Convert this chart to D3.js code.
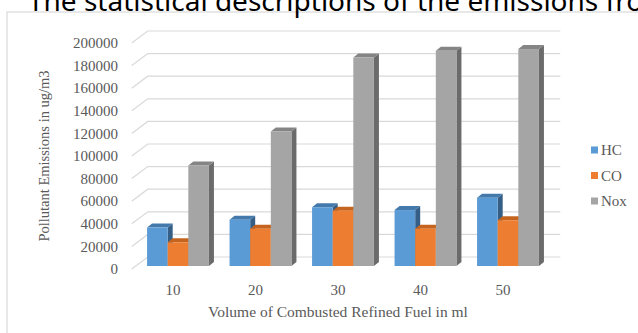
<!DOCTYPE html>
<html lang="en">
<head>
<meta charset="UTF-8">
<title>Pollutant Emissions</title>
<script src="https://d3js.org/d3.v7.min.js"></script>
<style>
  body { margin: 0; background: #fff; }
  svg { display: block; }
</style>
</head>
<body>
<script>
var categories = ["10", "20", "30", "40", "50"];
var seriesNames = ["HC", "CO", "Nox"];
var hc  = [34000, 41000, 52000, 49500, 60500];
var co  = [21000, 33000, 49000, 33000, 40500];
var nox = [89000, 119000, 184500, 190500, 192000];
var yTicks = [0, 20000, 40000, 60000, 80000, 100000, 120000, 140000, 160000, 180000, 200000];

var seriesValues = [hc, co, nox];
var front = ["#5b9bd5", "#ed7d31", "#a5a5a5"];
var top_ = ["#4379ab", "#c4641f", "#858585"];
var side = ["#355f86", "#a3531b", "#6b6b6b"];

var width = 638, height = 333;
var depthX = 16, depthY = -12;      // wall depth
var barShiftX = 5, barShiftY = -3;  // bar plane inside depth
var barDX = 5, barDY = -4;          // bar own depth

var svg = d3.select("body").append("svg")
    .attr("width", width)
    .attr("height", height);

// frame + title
svg.append("rect")
    .attr("x", 7).attr("y", 12)
    .attr("width", 700).attr("height", 400)
    .attr("fill", "#fff")
    .attr("stroke", "#d9d9d9").attr("stroke-width", 1.2);

svg.append("text")
    .attr("x", 28).attr("y", 11)
    .attr("font-family", "Noto Sans, sans-serif")
    .attr("font-size", 28)
    .attr("fill", "#000")
    .text("The statistical descriptions of the emissions from");

var x = d3.scaleBand()
    .domain(categories)
    .range([131.75, 544.25]);

var y = d3.scaleLinear()
    .domain([0, 200000])
    .range([269, 43]);

var inner = d3.scaleBand()
    .domain(seriesNames)
    .range([0, x.bandwidth()])
    .paddingOuter(0.5)
    .paddingInner(0);

// gridlines (side wall diagonal + back wall line)
var grid = svg.append("g").attr("stroke", "#d9d9d9").attr("stroke-width", 1.2).attr("fill", "none");
grid.selectAll("path").data(yTicks).enter().append("path")
    .attr("d", function(d) {
        var x0 = x.range()[0], y0 = y(d);
        return "M" + x0 + "," + y0 + "L" + (x0 + depthX) + "," + (y0 + depthY) +
               "L" + (x.range()[1] + depthX) + "," + (y0 + depthY);
    });

// y tick labels
svg.append("g").selectAll("text").data(yTicks).enter().append("text")
    .attr("x", 118).attr("y", function(d) { return y(d); })
    .attr("dy", "0.35em")
    .attr("text-anchor", "end")
    .attr("font-family", "Liberation Serif, serif")
    .attr("font-size", 15)
    .attr("fill", "#595959")
    .text(function(d) { return d; });

// x tick labels
svg.append("g").selectAll("text").data(categories).enter().append("text")
    .attr("x", function(d) { return x(d) + x.bandwidth() / 2; })
    .attr("y", 295)
    .attr("text-anchor", "middle")
    .attr("font-family", "Liberation Serif, serif")
    .attr("font-size", 15)
    .attr("fill", "#595959")
    .text(function(d) { return d; });

// bars
var bars = [];
categories.forEach(function(c, ci) {
    seriesNames.forEach(function(s, si) {
        bars.push({ cat: c, s: s, si: si, v: seriesValues[si][ci] });
    });
});

var barG = svg.append("g");
var b = barG.selectAll("g").data(bars).enter().append("g");

function bx(d) { return x(d.cat) + inner(d.s) + barShiftX; }
function by(v) { return y(v) + barShiftY; }

b.append("path")  // side face
    .attr("fill", function(d) { return side[d.si]; })
    .attr("d", function(d) {
        var x1 = bx(d) + inner.bandwidth(), yt = by(d.v), yb = by(0);
        return "M" + x1 + "," + yt + "L" + (x1 + barDX) + "," + (yt + barDY) +
               "L" + (x1 + barDX) + "," + (yb + barDY) + "L" + x1 + "," + yb + "Z";
    });
b.append("path")  // top face
    .attr("fill", function(d) { return top_[d.si]; })
    .attr("d", function(d) {
        var x0 = bx(d), x1 = x0 + inner.bandwidth(), yt = by(d.v);
        return "M" + x0 + "," + yt + "L" + (x0 + barDX) + "," + (yt + barDY) +
               "L" + (x1 + barDX) + "," + (yt + barDY) + "L" + x1 + "," + yt + "Z";
    });
b.append("rect")  // front face
    .attr("x", bx)
    .attr("y", function(d) { return by(d.v); })
    .attr("width", inner.bandwidth())
    .attr("height", function(d) { return by(0) - by(d.v); })
    .attr("fill", function(d) { return front[d.si]; });

// axis titles
svg.append("text")
    .attr("transform", "translate(49,156) rotate(-90)")
    .attr("text-anchor", "middle")
    .attr("font-family", "Liberation Serif, serif")
    .attr("font-size", 14.5)
    .attr("fill", "#595959")
    .text("Pollutant Emissions in ug/m3");

svg.append("text")
    .attr("x", 338).attr("y", 317)
    .attr("text-anchor", "middle")
    .attr("font-family", "Liberation Serif, serif")
    .attr("font-size", 15.5)
    .attr("fill", "#595959")
    .text("Volume of Combusted Refined Fuel in ml");

// legend
var leg = svg.append("g").selectAll("g").data(seriesNames).enter().append("g")
    .attr("transform", function(d, i) { return "translate(591," + (150 + i * 25.5) + ")"; });
leg.append("rect")
    .attr("x", 0).attr("y", -3.5).attr("width", 7).attr("height", 7)
    .attr("fill", function(d, i) { return front[i]; });
leg.append("text")
    .attr("x", 10).attr("dy", "0.35em")
    .attr("font-family", "Liberation Serif, serif")
    .attr("font-size", 15)
    .attr("fill", "#595959")
    .text(function(d) { return d; });
</script>
</body>
</html>
